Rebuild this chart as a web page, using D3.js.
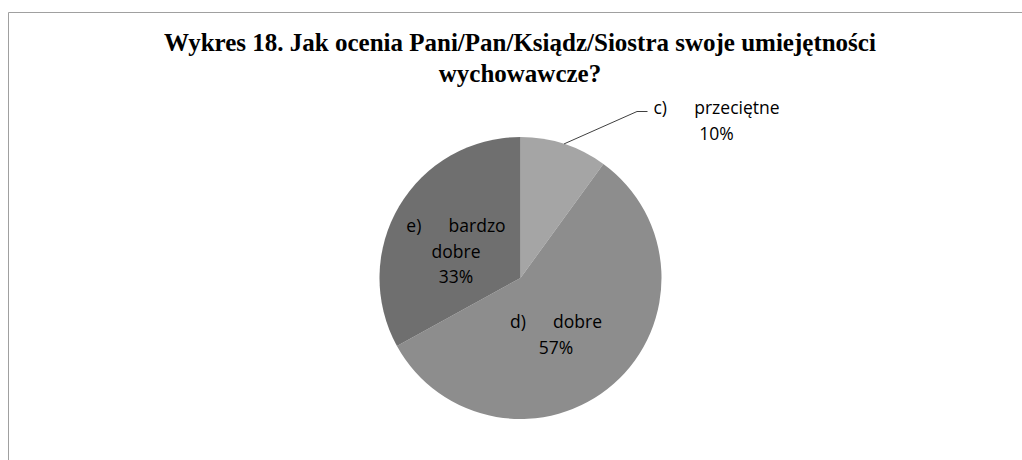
<!DOCTYPE html>
<html>
<head>
<meta charset="utf-8">
<script src="https://cdn.jsdelivr.net/npm/d3@7"></script>
<style>
  html, body { margin: 0; padding: 0; background: #fff; }
  svg { display: block; }
</style>
</head>
<body>
<svg id="chart" width="1022" height="460"></svg>
<script>
const titleLines = ["Wykres 18. Jak ocenia Pani/Pan/Ksiądz/Siostra swoje umiejętności", "wychowawcze?"];
const categories = ["c)     przeciętne", "d)     dobre", "e)     bardzo dobre"];
const values = [10, 57, 33];
const labelLines = [["c)      przeciętne", "10%"], ["d)      dobre", "57%"], ["e)      bardzo", "dobre", "33%"]];
const colors = ["#a5a5a5", "#8d8d8d", "#6f6f6f"];

const svg = d3.select("#chart");
const W = 1022, H = 460;

// frame
svg.append("path")
  .attr("d", `M8.5,${H} V12.5 H${W}`)
  .attr("fill", "none").attr("stroke", "#a0a0a0").attr("stroke-width", 1);

// title
const title = svg.append("text")
  .attr("text-anchor", "middle")
  .attr("font-family", "'Liberation Serif', 'Times New Roman', serif")
  .attr("font-weight", "bold").attr("font-size", 25).attr("fill", "#000");
title.selectAll("tspan").data(titleLines).join("tspan")
  .attr("x", 520).attr("y", (d, i) => 51 + i * 31).text(d => d);

const cx = 520.5, cy = 278, R = 141;
const data = categories.map((c, i) => ({ cat: c, value: values[i], lines: labelLines[i], color: colors[i] }));
const pie = d3.pie().sort(null).value(d => d.value);
const arc = d3.arc().innerRadius(0).outerRadius(R);
const arcs = pie(data);

const g = svg.append("g").attr("transform", `translate(${cx},${cy})`);
g.selectAll("path.slice").data(arcs).join("path")
  .attr("class", "slice")
  .attr("d", arc)
  .attr("fill", d => d.data.color);

// label positions (relative to pie centre)
const labelPos = [
  { x: 196, y: -164 },
  { x: 35.5, y: 50 },
  { x: -64.5, y: -46 }
];

// leader line for the small slice
const a0 = arcs[0];
const mid = (a0.startAngle + a0.endAngle) / 2;
const px = R * Math.sin(mid), py = -R * Math.cos(mid);
g.append("polyline")
  .attr("points", `${px},${py} ${116.5},${-166.5} ${127},${-166.5}`)
  .attr("fill", "none").attr("stroke", "#404040").attr("stroke-width", 1);

const fontLbl = "'Open Sans', 'Noto Sans', sans-serif";
arcs.forEach((a, i) => {
  const p = labelPos[i];
  const t = g.append("text")
    .attr("font-family", fontLbl).attr("font-size", 17.5).attr("fill", "#000")
    .attr("text-anchor", "middle");
  a.data.lines.forEach((ln, j) => {
    t.append("tspan").attr("x", p.x).attr("y", p.y + j * 25.5).attr("xml:space", "preserve").style("white-space", "pre").text(ln);
  });
});
</script>
</body>
</html>
